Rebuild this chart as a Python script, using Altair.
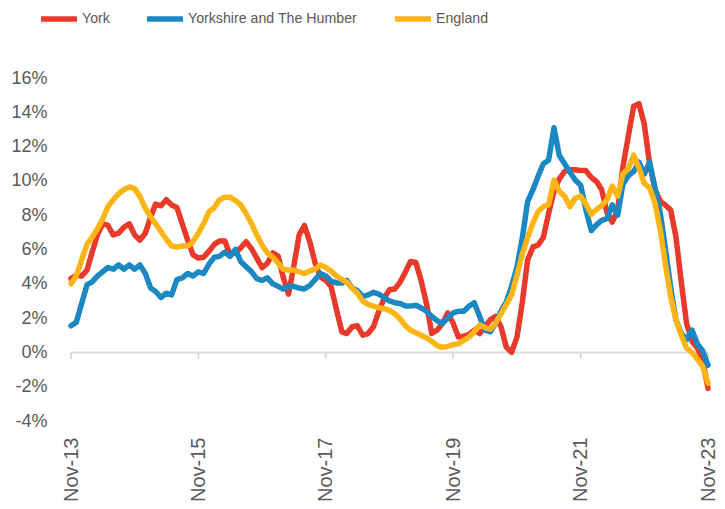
import altair as alt
import pandas as pd

# Monthly, Nov-13 .. Nov-23
months = pd.date_range("2013-11-01", "2023-11-01", freq="MS").strftime("%Y-%m-%dT00:00:00").tolist()

york = [4.3, 4.5, 4.45, 4.8, 5.8, 6.85, 7.5, 7.4, 6.85, 6.95, 7.3, 7.5, 6.85, 6.55, 6.95, 7.9, 8.65, 8.55, 8.9, 8.6,
        8.45, 7.5, 6.55, 5.7, 5.5, 5.55, 5.9, 6.3, 6.5, 6.5, 5.7, 5.8, 6.1, 6.45, 6.05, 5.5, 4.95, 5.2, 5.8, 5.6,
        4.4, 3.4, 5.0, 6.85, 7.4, 6.45, 5.2, 4.4, 4.2, 3.85, 2.5, 1.2, 1.1, 1.5, 1.55, 1.0, 1.1, 1.5, 2.4, 3.15,
        3.65, 3.7, 4.1, 4.7, 5.3, 5.25, 4.2, 2.85, 1.1, 1.3, 1.7, 2.3, 1.7, 0.9, 0.95, 1.05, 1.3, 1.1, 1.5, 1.9,
        2.1, 1.5, 0.3, 0.0, 0.9, 2.9, 5.4, 6.15, 6.25, 6.7, 8.1, 9.4, 10.1, 10.55, 10.65, 10.65, 10.6, 10.6, 10.2, 9.95,
        9.5, 8.15, 7.6, 8.3, 10.8, 12.6, 14.35, 14.5, 13.3, 11.0, 9.5, 8.8, 8.6, 8.3, 6.75, 4.1, 1.7, 0.65, 0.25, -0.45,
        -2.1]

yorkshire = [1.55, 1.75, 2.85, 3.95, 4.1, 4.45, 4.7, 4.95, 4.85, 5.1, 4.85, 5.1, 4.85, 5.1, 4.6, 3.75, 3.55, 3.2, 3.45, 3.35,
             4.25, 4.35, 4.6, 4.45, 4.7, 4.6, 5.15, 5.55, 5.6, 5.85, 5.6, 6.0, 5.3, 5.0, 4.7, 4.3, 4.2, 4.35, 4.0, 3.85,
             3.7, 3.85, 3.85, 3.75, 3.7, 3.9, 4.25, 4.6, 4.45, 4.15, 4.05, 4.05, 4.2, 3.75, 3.6, 3.25, 3.35, 3.5, 3.4, 3.2,
             3.0, 2.9, 2.85, 2.7, 2.7, 2.75, 2.6, 2.4, 2.1, 1.85, 1.7, 2.0, 2.3, 2.4, 2.4, 2.7, 2.9, 2.1, 1.3, 1.2,
             1.7, 2.4, 2.95, 3.85, 5.0, 6.65, 8.8, 9.5, 10.25, 11.0, 11.2, 13.1, 11.5, 11.0, 10.5, 10.05, 9.75, 8.3, 7.1, 7.45,
             7.7, 7.8, 8.6, 8.0, 9.8, 10.3, 10.55, 11.1, 10.4, 11.1, 9.6, 8.1, 6.1, 3.8, 1.9, 1.1, 0.75, 1.3, 0.5, 0.1,
             -0.75]

england = [4.0, 4.45, 5.4, 6.3, 6.7, 7.2, 7.75, 8.5, 8.9, 9.25, 9.5, 9.65, 9.55, 9.1, 8.4, 7.9, 7.5, 7.05, 6.6, 6.2,
           6.15, 6.2, 6.2, 6.45, 6.95, 7.5, 8.2, 8.45, 8.9, 9.05, 9.05, 8.85, 8.6, 8.1, 7.5, 6.85, 6.25, 5.8, 5.55, 5.2,
           4.85, 4.8, 4.8, 4.7, 4.6, 4.75, 4.85, 5.1, 4.95, 4.75, 4.45, 4.25, 4.1, 3.75, 3.45, 3.0, 2.8, 2.7, 2.6, 2.55,
           2.45, 2.25, 1.95, 1.55, 1.3, 1.15, 1.0, 0.85, 0.65, 0.4, 0.3, 0.35, 0.45, 0.5, 0.7, 0.9, 1.2, 1.6, 1.45, 1.35,
           1.7, 2.25, 2.8, 3.35, 4.5, 5.7, 6.7, 7.55, 8.2, 8.5, 8.6, 10.05, 9.4, 9.1, 8.5, 9.0, 9.1, 8.65, 8.05, 8.35,
           8.55, 8.9, 9.7, 9.1, 10.4, 10.7, 11.5, 10.75, 9.85, 9.6, 8.7, 7.1, 5.2, 3.25, 1.9, 1.0, 0.25, 0.0, -0.4, -0.8,
           -1.8]

series_names = ["York", "Yorkshire and The Humber", "England"]
series_colors = ["#E8392A", "#1B87C3", "#FDB515"]
tick_years = [2013, 2015, 2017, 2019, 2021, 2023]
y_ticks = [-4, -2, 0, 2, 4, 6, 8, 10, 12, 14, 16]

assert len(months) == len(york) == len(yorkshire) == len(england) == 121

rows = []
for name, vals in zip(series_names, [york, yorkshire, england]):
    for d, v in zip(months, vals):
        rows.append({"date": d, "series": name, "value": v})
df = pd.DataFrame(rows)

ticks_df = pd.DataFrame({"date": [f"{y}-11-01T00:00:00" for y in tick_years]})

TEXT = "#595959"
FONT = "Liberation Sans"
x_scale = alt.Scale(domain=[alt.DateTime(year=2013, month=11, date=1),
                            alt.DateTime(year=2023, month=11, date=1)], nice=False)
y_scale = alt.Scale(domain=[-4, 16], nice=False)

x_axis = alt.Axis(values=[alt.DateTime(year=y, month=11, date=1) for y in tick_years],
                  format="%b-%y", labelAngle=-90, labelFlush=False, labelOverlap=False,
                  domain=False, ticks=False, grid=False, labelPadding=16,
                  labelFont=FONT, labelFontSize=20, labelColor=TEXT)
y_axis = alt.Axis(values=y_ticks, labelExpr="datum.value + '%'", domain=False,
                  ticks=False, grid=False, labelPadding=24, labelOverlap=False, labelFont=FONT,
                  labelFontSize=18, labelColor=TEXT)

x_enc = alt.X("date:T", scale=x_scale, title=None, axis=x_axis)
y_enc = alt.Y("value:Q", scale=y_scale, title=None, axis=y_axis)
color_enc = alt.Color("series:N", scale=alt.Scale(domain=series_names, range=series_colors),
                      legend=alt.Legend(title=None, orient="none", legendX=-33, legendY=-80,
                                        direction="horizontal", symbolType="stroke", symbolSize=1300,
                                        symbolStrokeWidth=5.5, labelFont=FONT, labelLimit=0,
                                        labelFontSize=14.2, labelColor=TEXT, columnPadding=25,
                                        labelOffset=2, padding=0))

zero = alt.Chart(pd.DataFrame({"v": [0]})).mark_rule(color="#D9D9D9", strokeWidth=2).encode(
    y=alt.Y("v:Q", scale=y_scale, title=None, axis=y_axis))
tick_marks = alt.Chart(ticks_df).mark_rule(color="#D9D9D9", strokeWidth=2).encode(
    x=alt.X("date:T", scale=x_scale, title=None, axis=x_axis),
    y=alt.Y(datum=0, scale=y_scale, title=None, axis=y_axis),
    y2=alt.datum(-0.38))

base = alt.Chart(df)
lines = [base.transform_filter(alt.datum.series == n)
         .mark_line(strokeWidth=5.5, strokeJoin="round", strokeCap="round")
         .encode(x=x_enc, y=y_enc, color=color_enc) for n in series_names]

chart = alt.layer(zero, tick_marks, *lines).properties(
    width=637, height=343,
    autosize=alt.AutoSizeParams(type="none"),
    padding={"left": 63, "top": 70, "right": 9, "bottom": 80},
).configure_view(stroke=None).configure_axisY(labelOverlap=False)

chart.save("out.html", embed_options={"renderer": "svg", "actions": False})
